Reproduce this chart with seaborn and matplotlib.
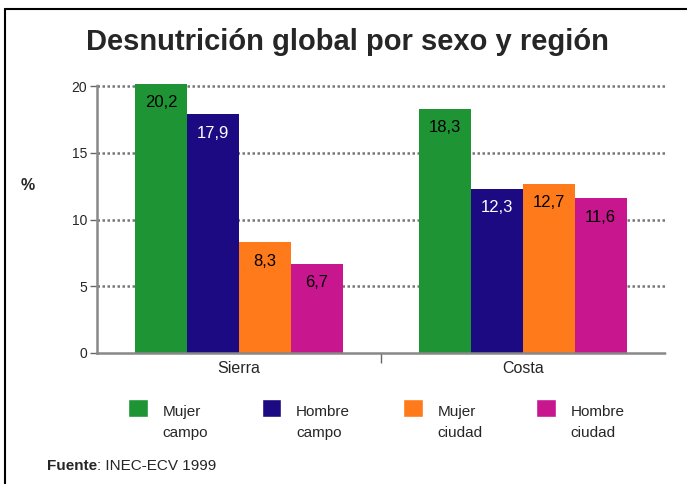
import matplotlib

matplotlib.use("Agg")
import matplotlib.pyplot as plt
import pandas as pd
import seaborn as sns
from matplotlib.legend_handler import HandlerPatch
from matplotlib.patches import Rectangle

# data
regions = ["Sierra", "Costa"]
groups = ["Mujer campo", "Hombre campo", "Mujer ciudad", "Hombre ciudad"]
sierra = [20.2, 17.9, 8.3, 6.7]
costa = [18.3, 12.3, 12.7, 11.6]
yticks = [0, 5, 10, 15, 20]

colors = ["#1f9435", "#1c0a82", "#ff7a1a", "#c8168e"]
label_colors = ["black", "white", "black", "black"]

df = pd.DataFrame({
    "region": [r for r in regions for _ in groups],
    "group": groups * len(regions),
    "value": sierra + costa,
})

sns.set_theme(style="white")
plt.rcParams["font.family"] = ["Liberation Sans", "DejaVu Sans"]

fig = plt.figure(figsize=(6.87, 4.84), dpi=100)
ax = fig.add_axes([0.141, 0.2707, 0.827, 0.558])

sns.barplot(data=df, x="region", y="value", hue="group", hue_order=groups,
            order=regions, palette=colors, saturation=1, width=0.73,
            ax=ax, legend=True)

for bars in ax.containers:
    for b in bars:
        b.set_clip_on(False)
        b.set_edgecolor("none")

for i, bars in enumerate(ax.containers):
    ax.bar_label(bars, labels=[f"{v:.1f}".replace(".", ",") for v in bars.datavalues],
                 padding=-19, fontsize=12, color=label_colors[i])

ax.set_ylim(0, 20.25)
ax.set_xlim(-0.5, 1.5)
ax.set_yticks(yticks)
ax.set_yticklabels([str(t) for t in yticks], fontsize=10)
ax.set_xlabel("")
ax.set_ylabel("")
ax.tick_params(axis="x", labelsize=11.5, length=0, pad=6)
ax.tick_params(axis="y", left=True, length=5, width=1, color="#666666", pad=2)
ax.set_xticks([0.5], minor=True)
ax.tick_params(axis="x", which="minor", bottom=True, length=7, color="#666666")

for y in yticks[1:]:
    ax.axhline(y, color="#777777", lw=1.8, ls=(0, (1, 1)), zorder=0)
for s in ["top", "right"]:
    ax.spines[s].set_visible(False)
for s in ["left", "bottom"]:
    ax.spines[s].set_color("#888888")
    ax.spines[s].set_linewidth(1.8)
    ax.spines[s].set_linestyle((0, (1, 1)))


# legend squares sit next to the first line of the two-line labels
def top_square(legend, orig_handle, xdescent, ydescent, width, height, fontsize):
    return Rectangle((-xdescent, -ydescent + 1.0 * fontsize), width, height)


handles, _ = ax.get_legend_handles_labels()
ax.get_legend().remove()
leg = fig.legend(handles, [g.replace(" ", "\n") for g in groups], ncol=4, loc="center",
                 bbox_to_anchor=(0.548, 0.127), frameon=False, fontsize=11,
                 handlelength=1.3, handleheight=1.45, handletextpad=0.95,
                 columnspacing=3.5, handler_map={Rectangle: HandlerPatch(patch_func=top_square)})
for t in leg.get_texts():
    t.set_linespacing(1.6)

fig.text(0.506, 0.914, "Desnutrición global por sexo y región", ha="center", va="center",
         fontsize=21, fontweight="bold")
fig.text(0.04, 0.617, "%", ha="center", va="center", fontsize=11.5, fontweight="bold")
src = fig.text(0.068, 0.037, "Fuente", fontsize=11, fontweight="bold", ha="left", va="center")
ax.annotate(": INEC-ECV 1999", xy=(1, 0.5), xycoords=src, fontsize=11, ha="left", va="center",
            annotation_clip=False)

# frame lines on the left and top edges
fig.add_artist(plt.Line2D([0.007, 0.007], [0, 0.982], color="black", lw=1.5))
fig.add_artist(plt.Line2D([0.007, 1.0], [0.982, 0.982], color="black", lw=1.5))

fig.savefig("out.png", dpi=100)
